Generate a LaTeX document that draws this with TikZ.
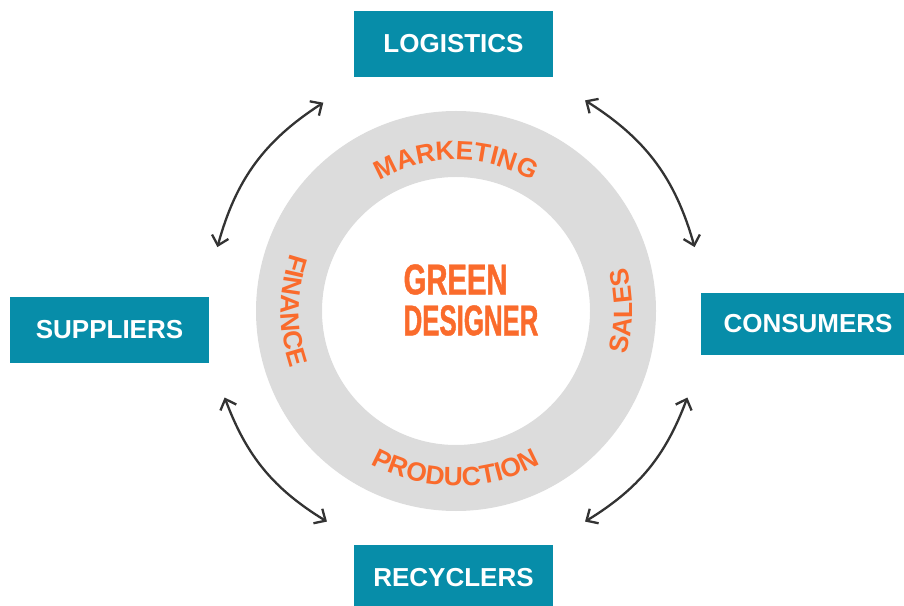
\documentclass[tikz,border=0pt]{standalone}
\usepackage{fontspec}
\setmainfont{Liberation Sans}
\newfontfamily\gdcond[FakeStretch=0.6,FakeBold=1]{Liberation Sans Bold}
\newfontfamily\gdwide[FakeStretch=0.68,FakeBold=1]{Liberation Sans Bold}
\usetikzlibrary{arrows.meta,decorations.text}
\definecolor{gdteal}{HTML}{078DA9}
\definecolor{gdorange}{HTML}{FA6B2C}
\definecolor{gdring}{HTML}{DCDCDC}
\definecolor{gdink}{HTML}{333333}

\begin{document}
\begin{tikzpicture}[
  x=0.5pt, y=0.5pt,
  party/.style    = {rectangle, fill=gdteal, text=white, inner sep=0pt,
                     font=\fontsize{13}{14}\selectfont\bfseries,
                     minimum width=99.5pt, minimum height=33pt},
  link/.style     = {{Straight Barb[length=4.5pt,width=8.5pt]}-{Straight Barb[length=4.5pt,width=8.5pt]},
                     draw=gdink, line width=1.15pt},
  ringword/.style = {decorate, decoration={text along path, text align=center,
                     text color=gdorange, text={|\fontsize{13.2}{13}\selectfont\bfseries|#1}}},
]
\useasboundingbox (0,0) rectangle (904,605);

% ring and centre
\coordinate (hub) at (456,294);
\fill[gdring, even odd rule] (hub) circle[radius=200] (hub) circle[radius=134];
\node[font=\fontsize{21.5}{20.5}\selectfont, text=gdorange, align=left, inner sep=0pt]
  (core) at (471,305) {{\gdwide GREEN}\\{\gdcond DESIGNER}};

% words around the ring
\path[ringword=MARKETING]  ([shift={(150:151)}]hub) arc[start angle=150, end angle=30, radius=151];
\path[ringword=PRODUCTION] ([shift={(210:175)}]hub) arc[start angle=210, end angle=330, radius=175];
\path[ringword=FINANCE]    ([shift={(120:175)}]hub) arc[start angle=120, end angle=240, radius=175];
\path[ringword=SALES]      ([shift={(-60:176)}]hub) arc[start angle=-60, end angle=60, radius=176];

% partners
\node[party] (logistics) at (453.5,561) {LOGISTICS};
\node[party] (suppliers) at (109.5,275) {SUPPLIERS};
\node[party, minimum width=107pt, minimum height=31pt] (consumers) at (808,281) {CONSUMERS};
\node[party] (recyclers) at (453.5,27) {RECYCLERS};

% arrows between partners
\coordinate (nw-a) at ([shift={(165:247)}]hub);
\coordinate (nw-b) at ([shift={(122.5:247)}]hub);
\coordinate (ne-a) at ([shift={(58.5:247)}]hub);
\coordinate (ne-b) at ([shift={(15:247)}]hub);
\coordinate (se-a) at ([shift={(-20.5:247)}]hub);
\coordinate (se-b) at ([shift={(-58.5:247)}]hub);
\coordinate (sw-a) at ([shift={(-121.5:247)}]hub);
\coordinate (sw-b) at ([shift={(-159.5:247)}]hub);
\draw[link] (nw-a) to[bend left=21] (nw-b);
\draw[link] (ne-a) to[bend left=21] (ne-b);
\draw[link] (se-a) to[bend left=19] (se-b);
\draw[link] (sw-a) to[bend left=19] (sw-b);
\end{tikzpicture}
\end{document}
